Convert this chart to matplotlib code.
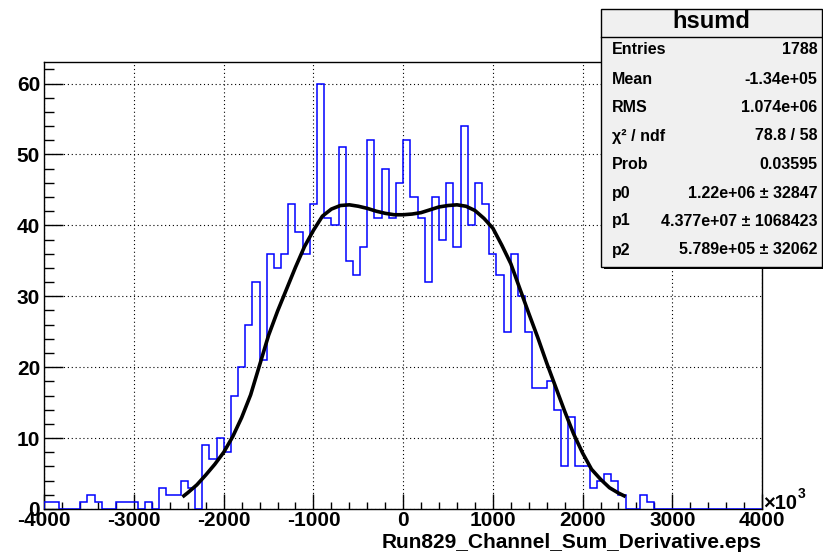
import matplotlib
matplotlib.use('Agg')
import matplotlib.pyplot as plt
import matplotlib.patches as patches
from matplotlib.ticker import MultipleLocator
import numpy as np

plt.rcParams['font.family'] = ['Liberation Sans', 'DejaVu Sans']
plt.rcParams['font.weight'] = 'bold'
plt.rcParams['axes.unicode_minus'] = False

# hsumd: 100 bins from -4000 to 4000 (x10^3)
bin_lo = -4000
bin_hi = 4000
counts = [1, 1, 0, 0, 0, 1, 2, 1, 0, 0, 1, 1, 1, 0, 1, 0, 3, 2, 2, 4, 3, 0,
          9, 7, 10, 8, 16, 20, 26, 32, 21, 36, 34,
          36, 43, 39, 36, 43, 60, 41, 40, 51, 35, 33, 37, 52, 41, 48, 41, 46, 52,
          44, 41, 32, 44, 38, 46, 37, 54, 40, 46, 43, 36, 33, 25, 36, 30, 25,
          17, 17, 18, 14, 6, 13, 6, 6, 3, 4, 5, 4, 2, 0, 0, 2, 1,
          0, 0, 0, 0, 0, 0, 0, 0, 0, 0, 0, 0, 0, 0, 0]

# fitted function, sampled
fit_x = [-2460, -2400, -2300, -2200, -2100, -2000, -1900, -1800, -1700, -1600,
         -1500, -1400, -1300, -1200, -1100, -1000, -900, -800, -700, -600,
         -500, -400, -300, -200, -100, 0, 100, 200, 300, 400,
         500, 600, 700, 800, 900, 1000, 1100, 1200, 1300, 1400,
         1500, 1600, 1700, 1800, 1900, 2000, 2100, 2200, 2300, 2400, 2480]
fit_y = [1.7, 2.3, 3.4, 4.8, 6.3, 8.0, 10.2, 12.9, 16.1, 20.3,
         24.5, 27.9, 31.0, 34.1, 37.0, 39.3, 41.3, 42.3, 42.8, 42.9,
         42.7, 42.4, 42.0, 41.7, 41.5, 41.5, 41.6, 41.8, 42.2, 42.6,
         42.8, 42.9, 42.7, 42.1, 41.0, 39.6, 37.2, 34.6, 31.1, 27.6,
         24.2, 20.6, 17.2, 13.8, 10.6, 7.9, 5.6, 4.2, 3.0, 2.25, 1.75]

stat_names = ['Entries', 'Mean', 'RMS', 'χ² / ndf', 'Prob', 'p0', 'p1', 'p2']
stat_values = ['1788', '-1.34e+05', '1.074e+06', '78.8 / 58', '0.03595',
               '1.22e+06 ± 32847', '4.377e+07 ± 1068423', '5.789e+05 ± 32062']

W, H = 823, 556
fig = plt.figure(figsize=(W / 100, H / 100), dpi=100)
fig.patch.set_facecolor('white')

x0, x1, y0, y1 = 44.3, 762, 509, 62.3
ax = fig.add_axes([x0 / W, (H - y0) / H, (x1 - x0) / W, (y0 - y1) / H])

edges = np.linspace(bin_lo, bin_hi, len(counts) + 1)
ax.stairs(counts, edges, color='#0000ff', linewidth=1.1, baseline=0, zorder=3)
ax.plot(fit_x, fit_y, color='black', linewidth=2.6, zorder=4, solid_capstyle='butt')

ax.set_xlim(bin_lo, bin_hi)
ax.set_ylim(0, 63)

ax.xaxis.set_major_locator(MultipleLocator(1000))
ax.xaxis.set_minor_locator(MultipleLocator(200))
ax.yaxis.set_major_locator(MultipleLocator(10))
ax.yaxis.set_minor_locator(MultipleLocator(2))

ax.tick_params(axis='both', which='both', direction='in', top=False, right=False,
               width=1.0, labelsize=15)
ax.tick_params(axis='x', which='major', length=10.5, pad=1.5)
ax.tick_params(axis='x', which='minor', length=5)
ax.tick_params(axis='y', which='major', length=13.5, pad=3)
ax.tick_params(axis='y', which='minor', length=7.5)
for lab in ax.get_xticklabels() + ax.get_yticklabels():
    lab.set_fontweight('bold')

ax.grid(True, which='major', color='black', linestyle=(0, (1, 2.5)), linewidth=0.8)
ax.set_axisbelow(True)
for sp in ax.spines.values():
    sp.set_linewidth(1.0)

# axis title and exponent
fig.text(x1 / W, 1 - 547.5 / H, 'Run829_Channel_Sum_Derivative.eps', ha='right',
         va='baseline', fontsize=15, fontweight='bold')
fig.text(763 / W, 1 - 509 / H, '×10', ha='left', va='baseline', fontsize=14.5,
         fontweight='bold')
fig.text(797.5 / W, 1 - 498 / H, '3', ha='left', va='baseline', fontsize=10,
         fontweight='bold')

# statistics box
bl, br, bt, bb, sep = 601, 821.5, 8.7, 266.7, 36.7
shadow = patches.Rectangle(((bl + 2.5) / W, 1 - (bb + 2.5) / H), (br - bl) / W,
                           (bb - bt) / H, transform=fig.transFigure,
                           facecolor='black', edgecolor='black', linewidth=0)
box = patches.Rectangle((bl / W, 1 - bb / H), (br - bl) / W, (bb - bt) / H,
                        transform=fig.transFigure, facecolor='#f0f0f0',
                        edgecolor='black', linewidth=1.0)
fig.add_artist(shadow)
fig.add_artist(box)
fig.add_artist(plt.Line2D([bl / W, br / W], [1 - sep / H, 1 - sep / H],
                          transform=fig.transFigure, color='black', linewidth=1.0))
fig.text((bl + br) / 2 / W, 1 - 22 / H, 'hsumd', ha='center', va='center',
         fontsize=17, fontweight='bold')

row_y = [50, 79, 108, 136, 165, 193, 221, 250]
for name, val, ry in zip(stat_names, stat_values, row_y):
    fig.text(611.5 / W, 1 - ry / H, name, ha='left', va='center', fontsize=11.5,
             fontweight='bold')
    fig.text(817.5 / W, 1 - ry / H, val, ha='right', va='center', fontsize=11.5,
             fontweight='bold')

fig.savefig('out.png', dpi=100)
